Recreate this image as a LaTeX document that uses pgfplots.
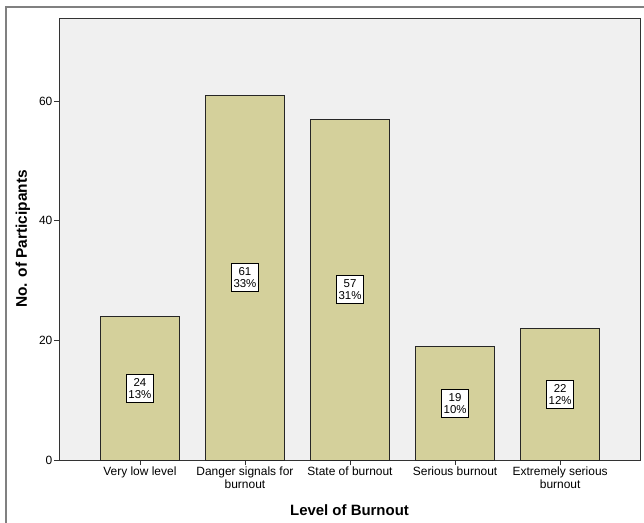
\documentclass[border=0pt]{standalone}
\usepackage{pgfplots}
\pgfplotsset{compat=1.18}
\usepackage{fontspec}
\setmainfont{Liberation Sans}
\definecolor{barfill}{HTML}{D4D09B}
\definecolor{plotbg}{HTML}{F0F0F0}
\begin{document}
\begin{tikzpicture}
\path[use as bounding box] (-59bp,-63bp) rectangle (585bp,460bp);
\draw[black!50, line width=1.1bp] (-53bp,-80bp) -- (-53bp,453bp) -- (600bp,453bp);
\begin{axis}[
  at={(0,0)}, anchor=south west,
  scale only axis,
  width=581bp, height=442bp,
  xmin=-0.77, xmax=4.76,
  ymin=0, ymax=73.9,
  axis background/.style={fill=plotbg},
  axis line style={black!80, line width=0.8bp},
  xtick={0,1,2,3,4},
  xticklabels={Very low level, Danger signals for\\burnout, State of burnout, Serious burnout, Extremely serious\\burnout},
  ytick={0,20,40,60},
  tick align=outside,
  xtick pos=bottom, ytick pos=left,
  major tick length=5bp,
  tick style={black!80, line width=0.8bp},
  xticklabel style={align=center, font=\fontsize{12}{10.5}\selectfont, inner sep=1bp, yshift=-1bp},
  yticklabel style={font=\fontsize{12}{12}\selectfont, inner sep=1.5bp},
  /pgf/number format/assume math mode=true,
  xlabel={Level of Burnout},
  ylabel={No. of Participants},
  xlabel style={font=\bfseries\fontsize{15}{18}\selectfont, at={(axis description cs:0.5,-0.113)}, anchor=center},
  ylabel style={font=\bfseries\fontsize{15.5}{18}\selectfont, at={(axis description cs:-0.062,0.5)}, anchor=center},
  clip=false,
]
\addplot[ybar, bar width=0.752, fill=barfill, draw=black!85, line width=0.8bp]
  coordinates {(0,24) (1,61) (2,57) (3,19) (4,22)};
\addplot[only marks, mark=none,
  nodes near coords, point meta=explicit symbolic,
  nodes near coords style={draw=black, fill=white, align=center, anchor=center,
    font=\fontsize{11.5}{12}\selectfont, inner xsep=2bp, inner ysep=4bp, line width=0.8bp}]
  coordinates {(0,12) [{24\\13\%}] (1,30.5) [{61\\33\%}] (2,28.5) [{57\\31\%}] (3,9.5) [{19\\10\%}] (4,11) [{22\\12\%}]};
\end{axis}
\end{tikzpicture}
\end{document}
